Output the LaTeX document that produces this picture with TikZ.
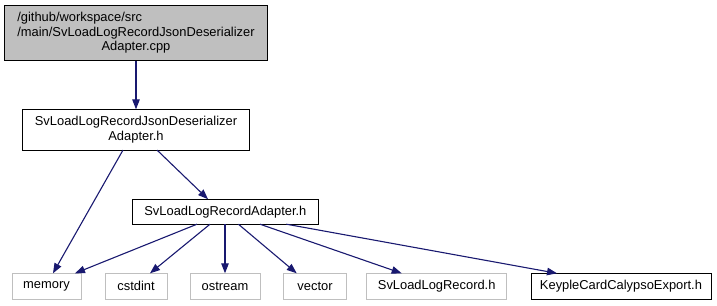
\documentclass[tikz,border=0pt]{standalone}
\usepackage{fontspec}
\setmainfont{Liberation Sans}
\usetikzlibrary{arrows.meta}
\definecolor{edgeblue}{HTML}{191970}
\definecolor{sysgray}{HTML}{BFBFBF}
\begin{document}
\begin{tikzpicture}[x=1pt,y=-1pt,
  every node/.style={inner sep=0pt, outer sep=0pt, font=\fontsize{12.9}{14.5}\selectfont},
  filebox/.style={draw=black, line width=1pt, fill=white, align=center},
  mainbox/.style={draw=black, line width=1pt, fill=sysgray},
  sysbox/.style={draw=sysgray, line width=1pt, fill=white, minimum height=26pt},
  dep/.style={draw=edgeblue, line width=1.1pt, -{Triangle[length=10pt,width=7.5pt]}}
]
\useasboundingbox (0,0) rectangle (717,305);

% source file
\node[mainbox, minimum width=263.4pt, minimum height=55.3pt] (src) at (136,33.3)
  {\begin{tabular}{@{}l@{}}/github/workspace/src\\/main/SvLoadLogRecordJsonDeserializer\\\multicolumn{1}{@{}c@{}}{Adapter.cpp}\end{tabular}};

% headers
\node[filebox, minimum width=226.6pt, minimum height=40.7pt] (jsonh) at (136,129.7)
  {SvLoadLogRecordJsonDeserializer\\Adapter.h};
\node[filebox, minimum width=185.8pt, minimum height=25pt] (adapterh) at (225.4,211.7)
  {SvLoadLogRecordAdapter.h};

% leaf includes
\node[sysbox, minimum width=69pt] (memory) at (46.5,286.3) {memory};
\node[sysbox, minimum width=62pt] (cstdint) at (136,286.3) {cstdint};
\node[sysbox, minimum width=70pt] (ostream) at (225,286.3) {ostream};
\node[sysbox, minimum width=63.4pt] (vector) at (315,286.3) {vector};
\node[sysbox, minimum width=140pt] (record) at (436.7,286.3) {SvLoadLogRecord.h};
\node[filebox, minimum width=180pt, minimum height=26pt] (export) at (621,286.3) {KeypleCardCalypsoExport.h};

% include edges
\draw[dep] (src.south) -- (jsonh.north);
\draw[dep] ([xshift=-13pt]jsonh.south) -- ([xshift=6.5pt]memory.north);
\draw[dep] ([xshift=21pt]jsonh.south) -- ([xshift=-17.4pt]adapterh.north);
\draw[dep] ([xshift=-28.4pt]adapterh.south) -- ([xshift=28.5pt]memory.north);
\draw[dep] ([xshift=-15.4pt]adapterh.south) -- ([xshift=14pt]cstdint.north);
\draw[dep] ([xshift=-0.4pt]adapterh.south) -- (ostream.north);
\draw[dep] ([xshift=13pt]adapterh.south) -- ([xshift=-18.3pt]vector.north);
\draw[dep] ([xshift=34.6pt]adapterh.south) -- ([xshift=-35pt]record.north);
\draw[dep] ([xshift=61pt]adapterh.south) -- ([xshift=-64pt]export.north);
\end{tikzpicture}
\end{document}
